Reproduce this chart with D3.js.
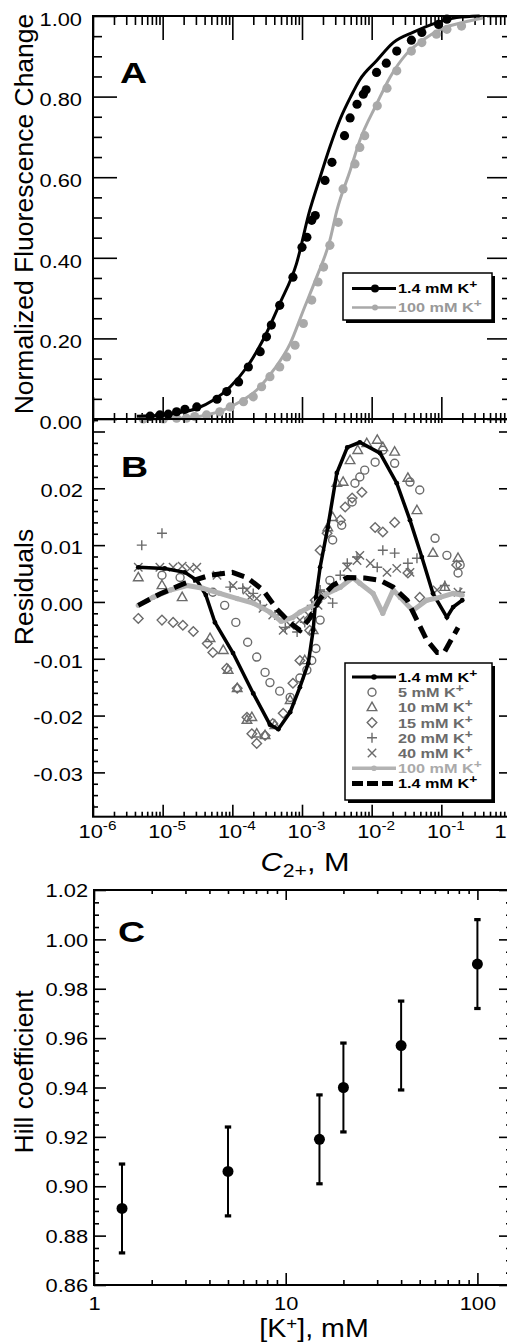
<!DOCTYPE html>
<html>
<head>
<meta charset="utf-8">
<script src="https://cdn.jsdelivr.net/npm/d3@7"></script>
<style>
  body { margin: 0; background: #fff; }
  svg text { font-family: "Liberation Sans", Arial, Helvetica, sans-serif; }
</style>
</head>
<body>
<svg id="svg" width="507" height="1342"></svg>
<script>
// ---- panel A : [log10 C (M), normalized fluorescence change] ----
let fitA14 = [[-5.37,.007],[-4.99,.010],[-4.75,.016],[-4.51,.026],[-4.27,.047],[-4.03,.080],[-3.79,.129],[-3.56,.196],[-3.32,.286],[-3.08,.385],[-2.89,.517],[-2.74,.600],[-2.60,.675],[-2.45,.745],[-2.30,.800],[-2.17,.842],[-1.93,.889],[-1.69,.934],[-1.40,.960],[-1.07,.983],[-0.78,.996],[-0.45,1.0]];
let dotsA14 = [[-5.18,.007],[-5.04,.010],[-4.92,.012],[-4.80,.018],[-4.68,.024],[-4.51,.030],[-4.22,.049],[-4.08,.068],[-3.91,.092],[-3.77,.129],[-3.60,.167],[-3.51,.204],[-3.44,.233],[-3.32,.282],[-3.13,.352],[-3.00,.426],[-2.93,.451],[-2.86,.493],[-2.81,.505],[-2.67,.592],[-2.57,.637],[-2.39,.703],[-2.31,.747],[-2.21,.781],[-2.12,.806],[-2.08,.817],[-1.93,.860],[-1.79,.883],[-1.64,.913],[-1.43,.940],[-1.28,.959],[-1.04,.979],[-0.92,.992]];
let fitA100 = [[-5.28,.000],[-4.75,.002],[-4.37,.010],[-4.13,.022],[-3.89,.043],[-3.65,.072],[-3.41,.121],[-3.17,.187],[-2.98,.270],[-2.79,.352],[-2.60,.443],[-2.50,.517],[-2.31,.616],[-2.17,.691],[-1.93,.781],[-1.74,.847],[-1.50,.906],[-1.26,.941],[-0.97,.970],[-0.69,.984],[-0.40,.995]];
let dotsA100 = [[-5.28,.000],[-4.99,.000],[-4.80,.002],[-4.66,.002],[-4.54,.006],[-4.37,.010],[-4.18,.018],[-4.03,.030],[-3.84,.043],[-3.70,.055],[-3.58,.080],[-3.46,.105],[-3.32,.129],[-3.22,.154],[-3.10,.183],[-2.98,.237],[-2.86,.295],[-2.77,.340],[-2.69,.377],[-2.60,.431],[-2.48,.488],[-2.41,.571],[-2.24,.633],[-2.17,.674],[-2.10,.703],[-1.92,.777],[-1.78,.821],[-1.64,.864],[-1.43,.913],[-1.28,.934],[-1.07,.955],[-0.92,.967],[-0.71,.975]];

// ---- panel B : [log10 C (M), residual] ----
let resB14 = [[-5.35,.0061],[-4.97,.0059],[-4.68,.0052],[-4.51,.0038],[-4.38,.0012],[-4.25,-.0036],[-3.99,-.0090],[-3.70,-.0161],[-3.46,-.0216],[-3.34,-.0224],[-3.17,-.0194],[-3.03,-.0150],[-2.91,-.0108],[-2.84,-.0050],[-2.80,.0008],[-2.74,.0061],[-2.63,.0131],[-2.50,.0227],[-2.35,.0272],[-2.17,.0281],[-1.88,.0262],[-1.64,.0209],[-1.45,.0144],[-1.28,.0079],[-1.12,.0015],[-0.92,-.0027],[-0.83,-.0009],[-0.70,.0003]];
let resB5 = [[-5.01,.0047],[-4.75,.0043],[-4.28,.0017],[-4.11,-.0006],[-3.95,-.0036],[-3.78,-.0071],[-3.65,-.0097],[-3.53,-.0124],[-3.46,-.0142],[-3.32,-.0157],[-3.17,-.0168],[-3.03,-.0134],[-2.93,-.0120],[-2.86,-.0103],[-2.80,-.0082],[-2.74,-.0032],[-2.70,.0012],[-2.60,.0038],[-2.56,.0109],[-2.43,.0135],[-2.28,.0176],[-2.24,.0209],[-2.17,.0220],[-2.10,.0232],[-1.95,.0246],[-1.84,.0267],[-1.67,.0244],[-1.45,.0211],[-1.31,.0197],[-1.09,.0112],[-0.92,.0082],[-0.76,.0051],[-0.73,.0065]];
let resB10 = [[-5.35,.0043],[-5.01,.0029],[-4.72,.0008],[-4.32,-.0064],[-4.13,-.0085],[-4.06,-.0120],[-3.93,-.0152],[-3.79,-.0208],[-3.72,-.0203],[-3.65,-.0232],[-3.53,-.0235],[-3.39,-.0217],[-3.17,-.0173],[-2.96,-.0103],[-2.84,-.0050],[-2.74,.0012],[-2.63,.0131],[-2.56,.0149],[-2.50,.0209],[-2.41,.0211],[-2.31,.0249],[-2.20,.0267],[-2.07,.0279],[-1.92,.0285],[-1.84,.0272],[-1.67,.0264],[-1.48,.0218],[-1.35,.0161],[-1.12,.0086],[-0.95,.0026],[-0.76,.0077]];
let resB15 = [[-5.35,-.0029],[-5.01,-.0032],[-4.85,-.0036],[-4.71,-.0041],[-4.56,-.0052],[-4.36,-.0073],[-4.28,-.0089],[-4.08,-.0117],[-3.93,-.0152],[-3.79,-.0203],[-3.72,-.0232],[-3.65,-.0249],[-3.53,-.0235],[-3.42,-.0214],[-3.27,-.0196],[-3.13,-.0143],[-3.03,-.0103],[-2.89,-.0050],[-2.81,.0003],[-2.74,.0091],[-2.64,.0121],[-2.45,.0144],[-2.38,.0167],[-2.28,.0183],[-2.14,.0193],[-1.95,.0131],[-1.84,.0123],[-1.67,.0140],[-1.48,.0051],[-1.31,.0008],[-0.78,.0065]];
let resB20 = [[-5.30,.0100],[-5.01,.0121],[-4.03,.0026],[-3.85,.0024],[-3.70,.0015],[-3.60,-.0006],[-3.39,-.0023],[-3.24,-.0045],[-3.07,-.0053],[-2.96,-.0036],[-2.86,-.0006],[-2.74,.0021],[-2.56,-.0002],[-2.45,.0047],[-2.35,.0068],[-2.21,.0079],[-1.92,.0061],[-1.84,.0091],[-1.67,.0086],[-1.48,.0068],[-1.35,.0077],[-0.95,.0029],[-0.73,.0017]];
let resB40 = [[-5.35,.0061],[-5.04,.0061],[-4.85,.0061],[-4.72,.0063],[-4.61,.0059],[-4.51,.0061],[-4.22,.0047],[-3.99,.0029],[-3.79,.0021],[-3.75,.0008],[-3.65,.0006],[-3.56,-.0011],[-3.42,-.0023],[-3.27,-.0050],[-3.17,-.0041],[-3.03,-.0032],[-2.91,-.0023],[-2.77,-.0006],[-2.64,.0012],[-2.56,.0026],[-2.35,.0061],[-2.21,.0073],[-2.17,.0082],[-2.02,.0068],[-1.78,.0052],[-1.64,.0059],[-1.45,.0052],[-1.06,.0021],[-0.76,.0017]];
let resB100 = [[-5.35,-.0006],[-5.14,.0008],[-4.89,.0021],[-4.65,.0029],[-4.42,.0024],[-4.18,.0015],[-3.93,.0006],[-3.70,-.0002],[-3.46,-.0018],[-3.30,-.0034],[-3.13,-.0027],[-3.03,-.0018],[-2.84,-.0006],[-2.64,.0015],[-2.45,.0026],[-2.27,.0043],[-2.17,.0033],[-1.98,.0015],[-1.84,-.0020],[-1.69,.0021],[-1.59,.0008],[-1.41,-.0015],[-1.21,.0003],[-1.02,.0008],[-0.83,.0015],[-0.70,.0012]];
let resB14alt = [[-5.35,-.0006],[-5.04,.0014],[-4.68,.0033],[-4.32,.0047],[-4.00,.0052],[-3.79,.0043],[-3.56,.0021],[-3.36,-.0013],[-3.17,-.0037],[-3.03,-.0050],[-2.89,-.0029],[-2.74,.0006],[-2.56,.0029],[-2.35,.0043],[-2.10,.0042],[-1.88,.0038],[-1.69,.0026],[-1.49,.0003],[-1.35,-.0032],[-1.21,-.0067],[-1.06,-.0089],[-0.96,-.0089],[-0.76,-.0045]];

let legendA = ['1.4 mM K', '100 mM K'];
let legendB = ['1.4 mM K', '5 mM K', '10 mM K', '15 mM K', '20 mM K', '40 mM K', '100 mM K', '1.4 mM K'];

// ---- panel C ----
let kConc = [1.4, 5, 15, 20, 40, 100];
let hill = [0.891, 0.906, 0.919, 0.940, 0.957, 0.990];
let hillErr = [0.018, 0.018, 0.018, 0.018, 0.018, 0.018];

let decades = [1e-6, 1e-5, 1e-4, 1e-3, 1e-2, 1e-1, 1];
let minorDec = [];
for (let e = -6; e < 0; e++) for (let m = 2; m < 10; m++) minorDec.push(m * Math.pow(10, e));
let kMajor = [1, 10, 100];
let kMinor = [2, 3, 4, 5, 6, 7, 8, 9, 20, 30, 40, 50, 60, 70, 80, 90];

let svg = d3.select('#svg');
let stretch = 1.18;

let x = d3.scaleLog().domain([1e-6, 1]).range([93, 511]);
let yA = d3.scaleLinear().domain([0, 1]).range([419, 16]);
let yB = d3.scaleLinear().domain([-0.0378, 0.0322]).range([816.7, 419]);
let xC = d3.scaleLog().domain([1, 149.7]).range([94, 511]);
let yC = d3.scaleLinear().domain([0.86, 1.02]).range([1285, 890]);

function stretchX(sel, k) {
  sel.each(function() {
    let t = d3.select(this);
    let xx = +t.attr('x') || 0;
    t.attr('x', xx / k).attr('transform', `scale(${k},1)`);
  });
}

function drawAxis(axis, tx, ty, labels) {
  let g = svg.append('g').attr('transform', `translate(${tx},${ty})`).call(axis);
  g.attr('font-size', 18.5).attr('font-family', null);
  g.select('.domain').remove();
  g.selectAll('.tick line').attr('stroke', '#000').attr('stroke-width', 1.6);
  if (!labels) {
    g.selectAll('.tick text').remove();
  } else {
    g.selectAll('.tick text').attr('fill', '#000');
  }
  return g;
}

let fmt2 = d => d.toFixed(2);

// ================= PANEL A =================
drawAxis(d3.axisLeft(yA).tickValues([0, .2, .4, .6, .8, 1]).tickSizeInner(-24).tickSizeOuter(0).tickPadding(11).tickFormat(fmt2), 93, 0, true)
  .selectAll('.tick text').attr('dy', '0.5em').call(stretchX, stretch);
let minorA = d3.range(1, 20).filter(i => i % 4 !== 0).map(i => i * 0.05);
drawAxis(d3.axisLeft(yA).tickValues(minorA).tickSizeInner(-9).tickSizeOuter(0), 93, 0, false);
drawAxis(d3.axisRight(yA).tickValues([0, .2, .4, .6, .8, 1]).tickSizeInner(-24).tickSizeOuter(0), 511, 0, false);
drawAxis(d3.axisRight(yA).tickValues(minorA).tickSizeInner(-9).tickSizeOuter(0), 511, 0, false);
drawAxis(d3.axisTop(x).tickValues(decades).tickSizeInner(-24).tickSizeOuter(0), 0, 16, false);
drawAxis(d3.axisTop(x).tickValues(minorDec).tickSizeInner(-9).tickSizeOuter(0), 0, 16, false);
drawAxis(d3.axisBottom(x).tickValues(decades).tickSizeInner(-22).tickSizeOuter(0), 0, 419, false);
drawAxis(d3.axisBottom(x).tickValues(minorDec).tickSizeInner(-6).tickSizeOuter(0), 0, 419, false);

svg.append('rect').attr('x', 93).attr('y', 16).attr('width', 418).attr('height', 403)
  .attr('fill', 'none').attr('stroke', '#000').attr('stroke-width', 2);

let lineA = d3.line().x(d => x(Math.pow(10, d[0]))).y(d => yA(d[1])).curve(d3.curveMonotoneX);
let gA = svg.append('g');
gA.append('path').attr('d', lineA(fitA100)).attr('fill', 'none').attr('stroke', '#a9a9a9').attr('stroke-width', 3);
gA.selectAll('.d100').data(dotsA100).enter().append('circle')
  .attr('cx', d => x(Math.pow(10, d[0]))).attr('cy', d => yA(d[1])).attr('r', 4.6).attr('fill', '#a9a9a9');
gA.append('path').attr('d', lineA(fitA14)).attr('fill', 'none').attr('stroke', '#000').attr('stroke-width', 3);
gA.selectAll('.d14').data(dotsA14).enter().append('circle')
  .attr('cx', d => x(Math.pow(10, d[0]))).attr('cy', d => yA(d[1])).attr('r', 4.6).attr('fill', '#000');

// legend A
let legA = svg.append('g');
legA.append('rect').attr('x', 346).attr('y', 276).attr('width', 149).attr('height', 47).attr('fill', '#000');
legA.append('rect').attr('x', 343).attr('y', 273).attr('width', 149).attr('height', 47).attr('fill', '#fff').attr('stroke', '#000').attr('stroke-width', 1.5);
let legAColors = ['#000', '#a9a9a9'];
legendA.forEach((lab, i) => {
  let yy = 288.5 + i * 19;
  legA.append('line').attr('x1', 352).attr('x2', 396).attr('y1', yy).attr('y2', yy)
    .attr('stroke', legAColors[i]).attr('stroke-width', i === 0 ? 3 : 2.5);
  legA.append('circle').attr('cx', 375).attr('cy', yy).attr('r', i === 0 ? 4 : 3).attr('fill', legAColors[i]);
  let t = legA.append('text').attr('x', 398).attr('y', yy + 5).attr('font-size', 13).attr('font-weight', 'bold')
    .attr('fill', i === 0 ? '#000' : '#999');
  t.append('tspan').text(lab);
  t.append('tspan').attr('dy', -5).attr('font-size', 11).text('+');
  stretchX(t, 1.25);
});

svg.append('text').attr('x', 120).attr('y', 83).attr('font-size', 30).attr('font-weight', 'bold').text('A')
  .call(stretchX, 1.25);
svg.append('text').attr('transform', 'translate(33,214) rotate(-90)').attr('text-anchor', 'middle')
  .attr('font-size', 26.5).text('Normalized Fluorescence Change');

// ================= PANEL B =================
let majB = [-0.03, -0.02, -0.01, 0, 0.01, 0.02, 0.03];
let minB = d3.range(-18, 17).filter(i => i % 5 !== 0).map(i => i * 0.002);
drawAxis(d3.axisLeft(yB).tickValues(majB).tickSizeInner(-12).tickSizeOuter(0).tickPadding(10)
  .tickFormat(d => (Math.abs(d - 0.03) < 1e-9 ? '' : fmt2(d))), 93, 0, true)
  .selectAll('.tick text').attr('dy', '0.45em').call(stretchX, stretch);
drawAxis(d3.axisLeft(yB).tickValues(minB).tickSizeInner(-5).tickSizeOuter(0), 93, 0, false);
drawAxis(d3.axisRight(yB).tickValues(majB).tickSizeInner(-12).tickSizeOuter(0), 511, 0, false);
drawAxis(d3.axisRight(yB).tickValues(minB).tickSizeInner(-4).tickSizeOuter(0), 511, 0, false);
drawAxis(d3.axisBottom(x).tickValues(decades.concat(minorDec)).tickSizeInner(4).tickSizeOuter(0), 0, 419, false);
let gBx = drawAxis(d3.axisBottom(x).tickValues(decades).tickSizeInner(-12).tickSizeOuter(0).tickPadding(8), 0, 816.7, true);
gBx.selectAll('.tick text').each(function(d) {
  let t = d3.select(this);
  t.text(null);
  if (d === 1) {
    t.attr('x', -11).text('1');
  } else {
    t.attr('x', 4);
    t.append('tspan').text('10');
    t.append('tspan').attr('dy', -8).attr('font-size', 13).text(Math.round(Math.log10(d)));
  }
}).call(stretchX, stretch);
drawAxis(d3.axisBottom(x).tickValues(minorDec).tickSizeInner(-5).tickSizeOuter(0), 0, 816.7, false);

svg.append('rect').attr('x', 93).attr('y', 419).attr('width', 418).attr('height', 397.7)
  .attr('fill', 'none').attr('stroke', '#000').attr('stroke-width', 2);

let bx = d => x(Math.pow(10, d[0]));
let by = d => yB(d[1]);
let lineB = d3.line().x(bx).y(by);
let markGray = '#6b6b6b';
let shapes = {
  circle: 'M4,0A4,4 0 1,1 -4,0A4,4 0 1,1 4,0Z',
  tri: 'M0,-5.2L4.8,3.2L-4.8,3.2Z',
  diamond: 'M0,-4.8L4.8,0L0,4.8L-4.8,0Z',
  plus: 'M-5,0H5M0,-5V5',
  times: 'M-4.2,-4.2L4.2,4.2M-4.2,4.2L4.2,-4.2'
};
let markerSets = [[resB5, 'circle'], [resB10, 'tri'], [resB15, 'diamond'], [resB20, 'plus'], [resB40, 'times']];
let gB = svg.append('g');
markerSets.forEach(([data, shape]) => {
  gB.append('g').selectAll('path').data(data).enter().append('path')
    .attr('transform', d => `translate(${bx(d)},${by(d)})`)
    .attr('d', shapes[shape]).attr('fill', 'none').attr('stroke', markGray).attr('stroke-width', 1.4);
});
gB.append('path').attr('d', lineB(resB14)).attr('fill', 'none').attr('stroke', '#000').attr('stroke-width', 3.5);
gB.append('g').selectAll('circle').data(resB14).enter().append('circle')
  .attr('cx', bx).attr('cy', by).attr('r', 2.4).attr('fill', '#000');
gB.append('path').attr('d', lineB(resB100)).attr('fill', 'none').attr('stroke', '#b3b3b3').attr('stroke-width', 5)
  .attr('stroke-linejoin', 'round');
gB.append('g').selectAll('circle').data(resB100).enter().append('circle')
  .attr('cx', bx).attr('cy', by).attr('r', 2.6).attr('fill', '#b3b3b3');
gB.append('path').attr('d', lineB(resB14alt)).attr('fill', 'none').attr('stroke', '#000').attr('stroke-width', 5)
  .attr('stroke-dasharray', '13,7');

// legend B
let legB = svg.append('g');
legB.append('rect').attr('x', 348).attr('y', 666).attr('width', 147).attr('height', 137).attr('fill', '#000');
legB.append('rect').attr('x', 345).attr('y', 663).attr('width', 147).attr('height', 137).attr('fill', '#fff').attr('stroke', '#000').attr('stroke-width', 1.5);
let legBShapes = [null, 'circle', 'tri', 'diamond', 'plus', 'times', null, null];
let legBText = ['#000', markGray, markGray, markGray, markGray, markGray, '#aaa', '#000'];
legendB.forEach((lab, i) => {
  let yy = 677 + i * 15.2;
  if (i === 0 || i === 6) {
    let c = i === 0 ? '#000' : '#b3b3b3';
    legB.append('line').attr('x1', 352).attr('x2', 396).attr('y1', yy).attr('y2', yy).attr('stroke', c).attr('stroke-width', i === 0 ? 3 : 3.5);
    legB.append('circle').attr('cx', 374).attr('cy', yy).attr('r', 2.8).attr('fill', c);
  } else if (i === 7) {
    legB.append('line').attr('x1', 352).attr('x2', 396).attr('y1', yy).attr('y2', yy).attr('stroke', '#000')
      .attr('stroke-width', 5).attr('stroke-dasharray', '11,4');
  } else {
    legB.append('path').attr('transform', `translate(372,${yy})`).attr('d', shapes[legBShapes[i]])
      .attr('fill', 'none').attr('stroke', markGray).attr('stroke-width', 1.4);
  }
  let t = legB.append('text').attr('x', 398).attr('y', yy + 5).attr('font-size', 13).attr('font-weight', 'bold')
    .attr('fill', legBText[i]);
  t.append('tspan').text(lab);
  t.append('tspan').attr('dy', -5).attr('font-size', 11).text('+');
  stretchX(t, 1.25);
});

svg.append('text').attr('x', 121).attr('y', 477).attr('font-size', 30).attr('font-weight', 'bold').text('B')
  .call(stretchX, 1.25);
svg.append('text').attr('transform', 'translate(33,587) rotate(-90)').attr('text-anchor', 'middle')
  .attr('font-size', 26.5).text('Residuals');
let tB = svg.append('text').attr('x', 305).attr('y', 871).attr('text-anchor', 'middle').attr('font-size', 26);
tB.append('tspan').attr('font-style', 'italic').text('C');
tB.append('tspan').attr('dy', 6).attr('font-size', 18).text('2+');
tB.append('tspan').attr('dy', -6).text(', M');
stretchX(tB, stretch);

// ================= PANEL C =================
let majC = d3.range(0, 9).map(i => 0.86 + i * 0.02);
let minC = d3.range(0, 33).filter(i => i % 4 !== 0).map(i => 0.86 + i * 0.005);
drawAxis(d3.axisLeft(yC).tickValues(majC).tickSizeInner(-12).tickSizeOuter(0).tickPadding(6).tickFormat(fmt2), 94, 0, true)
  .selectAll('.tick text').attr('dy', '0.36em').call(stretchX, stretch);
drawAxis(d3.axisLeft(yC).tickValues(minC).tickSizeInner(-5).tickSizeOuter(0), 94, 0, false);
drawAxis(d3.axisRight(yC).tickValues(majC).tickSizeInner(-12).tickSizeOuter(0), 511, 0, false);
drawAxis(d3.axisRight(yC).tickValues(minC).tickSizeInner(-5).tickSizeOuter(0), 511, 0, false);
drawAxis(d3.axisTop(xC).tickValues(kMajor).tickSizeInner(-10).tickSizeOuter(0), 0, 890, false);
drawAxis(d3.axisTop(xC).tickValues(kMinor).tickSizeInner(-4).tickSizeOuter(0), 0, 890, false);
drawAxis(d3.axisBottom(xC).tickValues(kMajor).tickSizeInner(-12).tickSizeOuter(0).tickPadding(12).tickFormat(d3.format('d')), 0, 1285, true)
  .selectAll('.tick text').call(stretchX, stretch);
drawAxis(d3.axisBottom(xC).tickValues(kMinor).tickSizeInner(-5).tickSizeOuter(0), 0, 1285, false);

svg.append('rect').attr('x', 94).attr('y', 890).attr('width', 417).attr('height', 395)
  .attr('fill', 'none').attr('stroke', '#000').attr('stroke-width', 2);

let gC = svg.append('g');
kConc.forEach((k, i) => {
  let cx = xC(k);
  let lo = yC(hill[i] - hillErr[i]), hi = yC(hill[i] + hillErr[i]);
  gC.append('line').attr('x1', cx).attr('x2', cx).attr('y1', lo).attr('y2', hi).attr('stroke', '#000').attr('stroke-width', 2);
  [lo, hi].forEach(yy => gC.append('rect').attr('x', cx - 3.2).attr('y', yy - 1.6).attr('width', 6.4).attr('height', 3.2).attr('fill', '#000'));
  gC.append('circle').attr('cx', cx).attr('cy', yC(hill[i])).attr('r', 5.5).attr('fill', '#000');
});

svg.append('text').attr('x', 118).attr('y', 942).attr('font-size', 30).attr('font-weight', 'bold').text('C')
  .call(stretchX, 1.25);
svg.append('text').attr('transform', 'translate(33,1072) rotate(-90)').attr('text-anchor', 'middle')
  .attr('font-size', 26.5).text('Hill coefficient');
let tC = svg.append('text').attr('x', 314).attr('y', 1337).attr('text-anchor', 'middle').attr('font-size', 26);
tC.append('tspan').text('[K');
tC.append('tspan').attr('dy', -8).attr('font-size', 17).text('+');
tC.append('tspan').attr('dy', 8).text('], mM');
stretchX(tC, 1.1);
</script>
</body>
</html>
